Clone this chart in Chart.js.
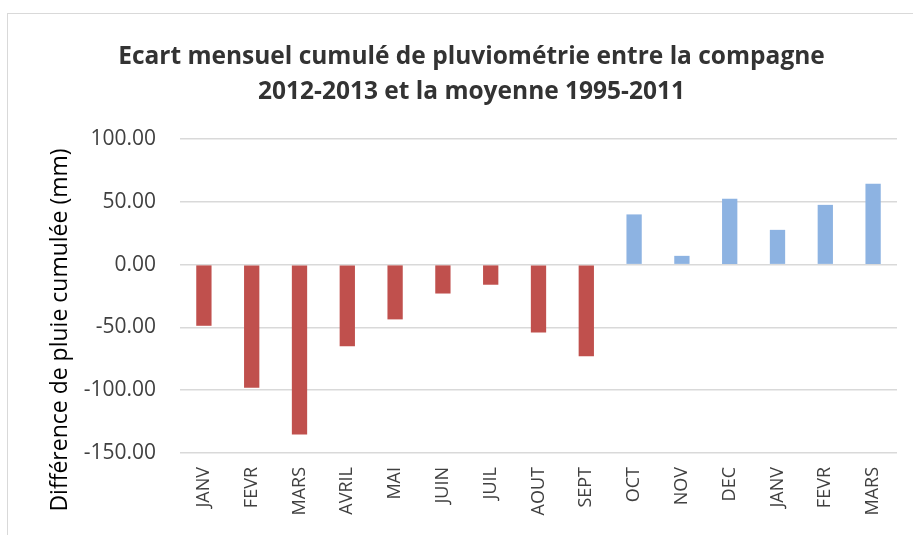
<!DOCTYPE html>
<html>
<head>
<meta charset="utf-8">
<script src="https://cdn.jsdelivr.net/npm/chart.js@4.4.1/dist/chart.umd.min.js"></script>
<style>
    html, body { margin: 0; padding: 0; background: #fff; }
    #wrap {
        position: absolute;
        left: 7px;
        top: 13px;
        width: 906px;
        height: 522px;
        border-top: 1px solid #d9d9d9;
        border-left: 1px solid #d9d9d9;
    }
</style>
</head>
<body>
<div id="wrap"><canvas id="ecart"></canvas></div>
<script>
var mois = ["JANV", "FEVR", "MARS", "AVRIL", "MAI", "JUIN", "JUIL", "AOUT", "SEPT",
            "OCT", "NOV", "DEC", "JANV", "FEVR", "MARS"];
var ecart = [-48.7, -98, -135.2, -65, -43.6, -23, -16, -54, -73,
             40, 7, 52.4, 27.7, 47.6, 64.4];
var yTicks = [-150, -100, -50, 0, 50, 100];
var titreY = "Différence de pluie cumulée (mm)";

var rouge = "#c0504d";
var bleu = "#8db3e2";

// titre de l'axe Y : dans l'original il est centré plus bas que la zone du graphique
var titreAxeY = {
    id: 'titreAxeY',
    afterDraw: function (chart) {
        var c = chart.ctx;
        var area = chart.chartArea;
        c.save();
        c.translate(52, area.bottom - 123);
        c.rotate(-Math.PI / 2);
        c.font = "23px 'Open Sans'";
        c.fillStyle = "#000000";
        c.textAlign = "center";
        c.textBaseline = "middle";
        c.fillText(titreY, 0, 0);
        c.restore();
    }
};

function build_graph_ecart() {

    var ctx = document.getElementById("ecart");

    var couleurs = [];
    ecart.forEach(function (v) {
        couleurs.push(v < 0 ? rouge : bleu);
    });

    var data = {
        labels: mois,
        datasets: [
            {
                data: ecart,
                backgroundColor: couleurs,
                borderWidth: 0,
                barPercentage: 0.32,
                categoryPercentage: 1.0
            }]
    };

    var option = {
        responsive: true,
        maintainAspectRatio: false,
        animation: false,
        layout: {
            padding: { left: 38, right: 17, top: 4, bottom: 5 }
        },
        plugins: {
            legend: { display: false },
            tooltip: { enabled: false },
            title: {
                display: true,
                text: ["Ecart mensuel cumulé de pluviométrie entre la compagne",
                       "2012-2013 et la moyenne 1995-2011"],
                color: "#333333",
                font: { family: "Open Sans", size: 24.5, weight: "bold", lineHeight: 1.43 },
                padding: { top: 21.5, bottom: 29.5 }
            }
        },
        scales: {
            x: {
                grid: { display: false, drawTicks: false },
                border: { display: false },
                afterFit: function (axis) { axis.height = 78; },
                ticks: {
                    color: "#404040",
                    font: { family: "Open Sans", size: 18 },
                    maxRotation: 90,
                    minRotation: 90,
                    padding: 14
                }
            },
            y: {
                min: -150,
                max: 100,
                afterBuildTicks: function (axis) {
                    axis.ticks = yTicks.map(function (v) { return { value: v }; });
                },
                afterFit: function (axis) { axis.width = 134; },
                grid: { color: "#d9d9d9", lineWidth: 1.5, drawTicks: false },
                border: { display: false },
                ticks: {
                    color: "#404040",
                    font: { family: "Open Sans", size: 21 },
                    padding: 24,
                    callback: function (v) { return v.toFixed(2); }
                }
            }
        }
    };

    var barChart = new Chart(ctx, {
        type: 'bar',
        data: data,
        options: option,
        plugins: [titreAxeY]
    });
}

build_graph_ecart();
</script>
</body>
</html>
